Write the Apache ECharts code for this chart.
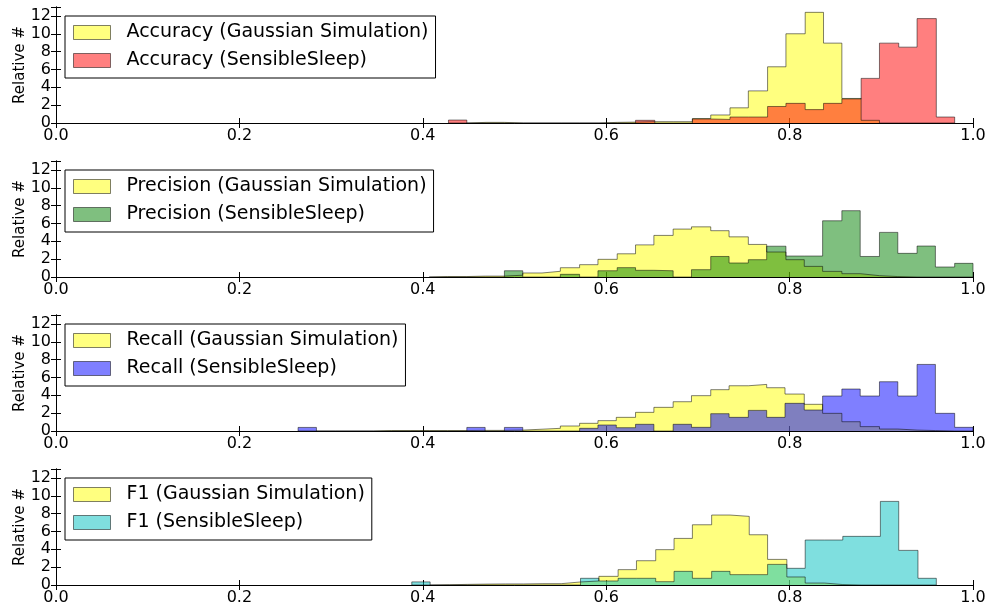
<!DOCTYPE html>
<html><head><meta charset="utf-8">
<script src="https://cdn.jsdelivr.net/npm/echarts@6/dist/echarts.min.js"></script>
<style>html,body{margin:0;padding:0;background:#fff}#c{width:1006px;height:608px}</style>
</head><body><div id="c"></div>
<script>
// ---- tick labels ----
const xTickLabels = ['0.0','0.2','0.4','0.6','0.8','1.0'];
const yTickLabels = ['0','2','4','6','8','10','12'];

// ---- Accuracy ----
const accEdges = [0.428,0.448,0.469,0.489,0.510,0.530,0.551,0.571,0.592,0.612,0.632,0.653,0.673,0.694,0.714,0.735,0.755,0.776,0.796,0.817,0.837,0.857,0.878,0.898,0.919,0.939,0.960,0.980];
const accGauss = [0,0.07,0.07,0,0,0,0,0,0.07,0.1,0.15,0.15,0.15,0.5,0.9,1.7,3.6,6.3,10.0,12.4,8.95,2.75,0.3,0,0,0,0];
const accSleep = [0.33,0,0,0,0,0,0,0,0,0,0.3,0,0,0.45,0.4,0.67,0.67,1.85,2.2,1.5,2.2,2.7,5.0,8.95,8.5,11.7,0.67];

// ---- Precision ----
const precEdges = [0.407,0.427,0.448,0.468,0.489,0.509,0.530,0.550,0.571,0.591,0.612,0.632,0.652,0.673,0.693,0.714,0.734,0.755,0.775,0.796,0.816,0.836,0.857,0.877,0.898,0.918,0.939,0.959,0.980,1.000];
const precGauss = [0.05,0.05,0.1,0.1,0.2,0.45,0.64,1.04,1.38,1.98,2.6,3.6,4.66,5.37,5.62,5.19,4.5,3.65,2.8,1.94,1.19,0.63,0.37,0.15,0.05,0,0,0,0];
const precSleep = [0,0,0,0,0.7,0,0,0.3,0,0.7,1.05,0.75,0.7,0,0.82,2.3,1.57,1.94,3.45,2.35,2.35,6.3,7.43,2.3,5.0,2.65,3.47,1.12,1.53];

// ---- Recall ----
const recEdges = [0.264,0.284,0.305,0.325,0.346,0.366,0.387,0.407,0.427,0.448,0.468,0.489,0.509,0.530,0.550,0.571,0.591,0.611,0.632,0.652,0.673,0.693,0.714,0.734,0.755,0.775,0.795,0.816,0.836,0.857,0.877,0.898,0.918,0.939,0.959,0.980,1.000];
const recGauss = [0,0,0,0,0.05,0.05,0.05,0.05,0.05,0.07,0.07,0.1,0.2,0.3,0.56,0.86,1.16,1.53,2.09,2.65,3.28,3.96,4.63,5.07,5.22,4.85,4.14,2.99,1.98,1.04,0.49,0.22,0.1,0.05,0,0];
const recSleep = [0.4,0,0,0,0,0,0,0,0,0.4,0,0.4,0,0,0,0.3,0.67,0.37,0.75,0,0.75,0.41,1.94,1.53,2.31,1.53,3.1,2.35,3.92,4.7,3.92,5.52,3.92,7.46,1.98,0.41];

// ---- F1 ----
const f1Edges = [0.388,0.408,0.429,0.449,0.470,0.490,0.510,0.531,0.551,0.572,0.592,0.613,0.633,0.654,0.674,0.694,0.715,0.735,0.756,0.776,0.797,0.817,0.838,0.858,0.878,0.899,0.919,0.940,0.960];
const f1Gauss = [0,0.03,0.07,0.1,0.12,0.12,0.15,0.15,0.34,0.45,0.97,1.72,2.72,3.96,5.22,6.75,7.84,7.69,5.63,2.87,0.9,0.22,0.05,0,0,0,0,0];
const f1Sleep = [0.35,0,0,0,0,0,0,0,0,0.75,0.45,0.75,0.75,0.37,1.53,0.75,1.53,1.16,1.16,2.31,1.87,5.04,5.04,5.45,5.45,9.37,3.88,0.75];

const panelNames = [
  ['Accuracy (Gaussian Simulation)','Accuracy (SensibleSleep)'],
  ['Precision (Gaussian Simulation)','Precision (SensibleSleep)'],
  ['Recall (Gaussian Simulation)','Recall (SensibleSleep)'],
  ['F1 (Gaussian Simulation)','F1 (SensibleSleep)']
];
const panelData = [
  [accEdges, accGauss, accSleep],
  [precEdges, precGauss, precSleep],
  [recEdges, recGauss, recSleep],
  [f1Edges, f1Gauss, f1Sleep]
];
const sleepColors = ['#ff0000','#008000','#0000ff','#00bfbf'];
const gaussColor = '#ffff00';

function rgba(hex, a){
  const r=parseInt(hex.slice(1,3),16), g=parseInt(hex.slice(3,5),16), b=parseInt(hex.slice(5,7),16);
  return 'rgba('+r+','+g+','+b+','+a+')';
}
function stepData(edges, counts){
  const d=[[edges[0],0]];
  for(let i=0;i<counts.length;i++) d.push([edges[i],counts[i]]);
  d.push([edges[counts.length],0]);
  return d;
}

const FONT='DejaVu Sans';
const grid=[], xAxis=[], yAxis=[], series=[], legend=[];
for(let i=0;i<4;i++){
  const top=7+154*i;
  grid.push({left:56, width:917, top:top, height:116, outerBoundsMode:'none', containLabel:false});
  const xBase={gridIndex:i, type:'value', min:0, max:1, interval:0.2,
    axisLine:{show:true, lineStyle:{color:'#000', width:1}},
    axisTick:{show:true, inside:true, length:5, lineStyle:{color:'#000'}},
    splitLine:{show:false}};
  xAxis.push(Object.assign({}, xBase, {position:'bottom',
    axisLabel:{color:'#000', fontSize:16, fontFamily:FONT, margin:5,
      formatter:v=>xTickLabels[Math.round(v*5)]}}));
  xAxis.push(Object.assign({}, xBase, {position:'top', axisLabel:{show:false}}));
  const yBase={gridIndex:i, type:'value', min:0, max:13, interval:2,
    axisLine:{show:true, lineStyle:{color:'#000', width:1}},
    axisTick:{show:true, inside:true, length:5, lineStyle:{color:'#000'}},
    splitLine:{show:false}};
  yAxis.push(Object.assign({}, yBase, {position:'left',
    name:'Relative #', nameLocation:'middle', nameGap:28, nameMoveOverlap:false,
    nameTextStyle:{color:'#000', fontSize:15, fontFamily:FONT},
    axisLabel:{color:'#000', fontSize:16, fontFamily:FONT, margin:5,
      formatter:v=>{const k=Math.round(v/2); return (Math.abs(v-2*k)<1e-6 && k<yTickLabels.length)? yTickLabels[k]:'';}}}));
  yAxis.push(Object.assign({}, yBase, {position:'right', axisLabel:{show:false}}));

  const [edges, g, s] = panelData[i];
  const cols=[gaussColor, sleepColors[i]];
  const vals=[g,s];
  for(let j=0;j<2;j++){
    series.push({type:'line', name:panelNames[i][j], xAxisIndex:2*i, yAxisIndex:2*i,
      step:'end', symbol:'none', silent:true, data:stepData(edges, vals[j]),
      lineStyle:{color:'#000', opacity:0.5, width:1},
      itemStyle:{color:rgba(cols[j],0.5)},
      areaStyle:{color:cols[j], opacity:0.5}});
  }
  legend.push({orient:'vertical', left:65, top:top+9, selectedMode:false,
    itemWidth:37, itemHeight:14, itemGap:9, padding:[7,7,8,8],
    borderColor:'#000', borderWidth:1, backgroundColor:'#fff', borderRadius:0,
    textStyle:{color:'#000', fontSize:19, fontFamily:FONT, padding:[0,0,0,11]},
    data:panelNames[i].map((n,j)=>({name:n, icon:'rect',
      itemStyle:{color:rgba(cols[j],0.5), borderColor:'rgba(0,0,0,0.5)', borderWidth:1}}))});
}

const chart=echarts.init(document.getElementById('c'), null, {renderer:'canvas'});
chart.setOption({animation:false, backgroundColor:'#fff', grid, xAxis, yAxis, series, legend});
</script>
</body></html>
